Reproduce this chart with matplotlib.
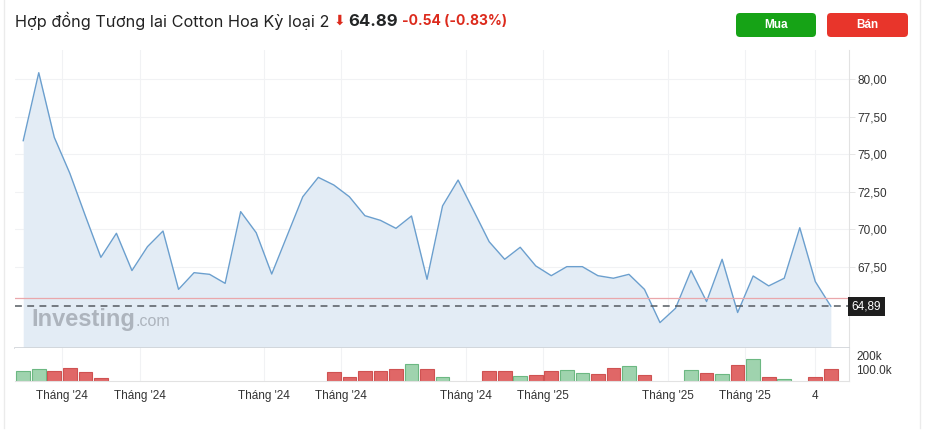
import numpy as np
import matplotlib
matplotlib.use("Agg")
import matplotlib.pyplot as plt
from matplotlib.patches import FancyBboxPatch
from matplotlib.lines import Line2D

# Weekly-ish close prices (US Cotton #2 futures)
prices = [75.90, 80.42, 76.12, 73.73, 70.90, 68.14, 69.74, 67.26, 68.85, 69.89,
          66.01, 67.12, 67.01, 66.41, 71.18, 69.78, 67.03, 69.60, 72.17, 73.46,
          72.95, 72.17, 70.91, 70.60, 70.07, 70.89, 66.68, 71.56, 73.28, 71.24,
          69.18, 68.01, 68.81, 67.57, 66.92, 67.52, 67.52, 66.92, 66.75, 67.01,
          66.01, 63.80, 64.75, 67.26, 65.20, 68.01, 64.47, 66.90, 66.24, 66.75,
          70.11, 66.53, 64.89]

# Volume in thousands (0 = no bar)
volumes = [93, 107, 93, 116, 86, 45, 0, 0, 0, 0,
           0, 0, 0, 0, 0, 0, 0, 0, 0, 0,
           86, 50, 93, 93, 107, 145, 107, 50, 0, 0,
           93, 93, 57, 64, 93, 100, 79, 74, 116, 131,
           64, 0, 0, 100, 79, 71, 138, 181, 50, 36,
           0, 50, 107]

last_price = 64.89
prev_close = 65.43

x_tick_pos = [2.47, 7.51, 15.5, 20.46, 28.5, 33.46, 41.5, 46.5, 51.0]
x_tick_labels = ["Tháng '24", "Tháng '24", "Tháng '24", "Tháng '24", "Tháng '24",
                 "Tháng '25", "Tháng '25", "Tháng '25", "4"]

price_ticks = [67.5, 70.0, 72.5, 75.0, 77.5, 80.0]
vol_ticks = [100, 200]
vol_tick_labels = ["100.0k", "200k"]

title = "Hợp đồng Tương lai Cotton Hoa Kỳ loại 2"
change_text = "-0.54 (-0.83%)"

W, H = 926, 437
fig = plt.figure(figsize=(W / 100, H / 100), dpi=100)
fig.patch.set_facecolor("white")

def fx(px):
    return px / W

def fy(py):
    return 1 - py / H

x = np.arange(len(prices))
xlim = (-0.53, 53.17)

# main price panel
ax = fig.add_axes([fx(15), fy(348), fx(849) - fx(15), fy(50) - fy(348)])
ymin, ymax = 62.11, 81.93
ax.fill_between(x, prices, ymin, color="#e3ecf5", lw=0)
ax.plot(x, prices, color="#6b9fce", lw=1.0)
ax.axhline(prev_close, color="#eaa7ab", lw=0.9)
ax.axhline(last_price, color="#555b61", lw=1.1, ls=(0, (4.5, 3.5)))
ax.set_xlim(*xlim)
ax.set_ylim(ymin, ymax)
ax.set_yticks(price_ticks)
ax.set_yticklabels([f"{v:.2f}".replace(".", ",") for v in price_ticks])
ax.yaxis.tick_right()
ax.set_xticks(x_tick_pos)
ax.set_xticklabels([])
ax.tick_params(axis="x", length=0)
ax.tick_params(axis="y", length=4, width=0.6, color="#e2e2e2",
               labelsize=8.5, labelcolor="#333333", pad=2)
for lab in ax.get_yticklabels():
    lab.set_fontfamily("Liberation Sans")
ax.grid(True, color="#f1f2f4", lw=0.8)
ax.set_axisbelow(True)
for s in ["top", "left"]:
    ax.spines[s].set_visible(False)
ax.spines["right"].set_color("#e2e2e2")
ax.spines["bottom"].set_color("#cfd3d8")
ax.spines["bottom"].set_linewidth(1.2)

# last price tag
ax.text(1.003, (last_price - ymin) / (ymax - ymin), f"{last_price:.2f}".replace(".", ","),
        transform=ax.transAxes, ha="left", va="center", fontsize=8.5,
        family="Liberation Sans", color="white",
        bbox=dict(boxstyle="square,pad=0.3", fc="#1e1e1e", ec="none"))

# watermark
ax.text(0.02, 0.075, "Investing", transform=ax.transAxes, fontsize=17,
        fontweight="bold", family="Liberation Sans", color="#adb4bd",
        ha="left", va="baseline")
ax.text(0.144, 0.075, ".com", transform=ax.transAxes, fontsize=11.5,
        family="Liberation Sans", color="#adb4bd", ha="left", va="baseline")

# volume panel
vax = fig.add_axes([fx(15), fy(381.3), fx(849) - fx(15), fy(348) - fy(381.3)])
vol = np.array(volumes, dtype=float)
up = np.r_[True, np.diff(prices) >= 0]
mask = vol > 0
face = np.where(up, "#9fd3ae", "#e06767")
edge = np.where(up, "#6cb882", "#cf5252")
vax.bar(x[mask], vol[mask], width=0.88, color=face[mask], edgecolor=edge[mask], lw=0.8)
vax.set_xlim(*xlim)
vax.set_ylim(19, 257)
vax.set_yticks(vol_ticks)
vax.set_yticklabels(vol_tick_labels)
vax.yaxis.tick_right()
vax.tick_params(axis="y", length=0, labelsize=8.5, labelcolor="#333333", pad=5)
vax.set_xticks(x_tick_pos)
vax.set_xticklabels(x_tick_labels)
vax.tick_params(axis="x", length=0, labelsize=8.5, labelcolor="#333333", pad=6)
for lab in vax.get_xticklabels() + vax.get_yticklabels():
    lab.set_fontfamily("Liberation Sans")
vax.grid(True, axis="x", color="#f1f2f4", lw=0.8)
vax.set_axisbelow(True)
for s in ["top", "left"]:
    vax.spines[s].set_visible(False)
vax.spines["right"].set_color("#e2e2e2")
vax.spines["bottom"].set_color("#e2e2e2")

# container borders
fig.add_artist(Line2D([fx(4), fx(4)], [fy(0), fy(428)], color="#ebebeb", lw=1))
fig.add_artist(Line2D([fx(920), fx(920)], [fy(0), fy(428)], color="#ebebeb", lw=1))

# header
fig.text(fx(15), fy(21), title, fontsize=11.7, family="Inter", color="#222222",
         ha="left", va="center")
fig.text(fx(334), fy(21), "⬇", fontsize=10, family="DejaVu Sans", color="#dc2a1c",
         ha="left", va="center")
fig.text(fx(348), fy(21), f"{last_price:.2f}", fontsize=12, fontweight="bold",
         family="Inter", color="#232526", ha="left", va="center")
fig.text(fx(402), fy(21), change_text, fontsize=10, fontweight="bold",
         family="Inter", color="#dc2a1c", ha="left", va="center")

# buttons (inch coordinates)
for x0, x1, col, label in [(736, 816, "#16a316", "Mua"), (827, 908, "#e8352b", "Bán")]:
    btn = FancyBboxPatch((x0 / 100, (H - 37) / 100), (x1 - x0) / 100, 0.24,
                         boxstyle="round,pad=0,rounding_size=0.04",
                         transform=fig.dpi_scale_trans, fc=col, ec="none")
    fig.add_artist(btn)
    fig.text(fx((x0 + x1) / 2), fy(25), label, fontsize=8.5, fontweight="bold",
             family="Liberation Sans", color="white", ha="center", va="center")

fig.savefig("out.png", dpi=100)
